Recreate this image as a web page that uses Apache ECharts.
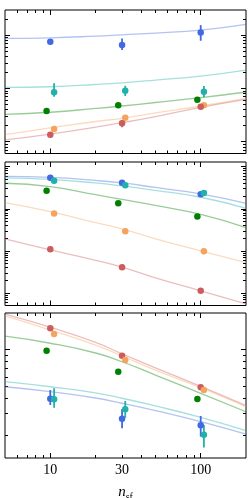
<!DOCTYPE html>
<html><head><meta charset="utf-8">
<script src="https://cdn.jsdelivr.net/npm/echarts@6/dist/echarts.min.js"></script>
<style>html,body{margin:0;padding:0;background:#fff}#c{width:249px;height:498px}</style>
</head><body><div id="c"></div>
<script>
// x positions of the measured points (slightly dodged per series)
const xBlue = [10, 30, 100];
const xTeal = [10.6, 31.5, 105];
const xGreen = [9.45, 28.3, 95];
const xOrange = [10.6, 31.5, 105];
const xRed = [10, 30, 100];
// x positions where the model curves are sampled
const curveX = [5, 10, 20, 30, 50, 100, 200];

// tick values
const xMajorTicks = [10, 100];
const xMinorTicks = [6, 7, 8, 9, 20, 30, 40, 50, 60, 70, 80, 90];
const xTickLabels = [10, 30, 100];
const y1Major = [1, 10, 100];
const y1Minor = [0.7, 0.8, 0.9, 2, 3, 4, 5, 6, 7, 8, 9, 20, 30, 40, 50, 60, 70, 80, 90, 200];
const y2Major = [0.01, 0.1, 1, 10];
const y2Minor = [0.006, 0.007, 0.008, 0.009, 0.02, 0.03, 0.04, 0.05, 0.06, 0.07, 0.08, 0.09, 0.2, 0.3, 0.4, 0.5, 0.6, 0.7, 0.8, 0.9, 2, 3, 4, 5, 6, 7, 8, 9];
const y3Major = [1];
const y3Minor = [0.2, 0.3, 0.4, 0.5, 0.6, 0.7, 0.8, 0.9];

// Panel 1 data
const p1Blue = [74.6, 64.7, 111.9];
const p1BlueLo = [null, 52.2, 77.9];
const p1BlueHi = [null, 86.3, 153];
const p1Teal = [8.41, 9.02, 8.64];
const p1TealLo = [6.96, 7.17, 6.78];
const p1TealHi = [12.4, 11.2, 11.0];
const p1Green = [3.76, 4.81, 6.12];
const p1Orange = [1.73, 2.81, 4.81];
const p1Red = [1.35, 2.21, 4.52];
const p1RedLo = [null, 1.86, null];
const p1RedHi = [null, 2.55, null];
const p1CurveBlue = [86.4, 88.6, 95.3, 100.9, 108.6, 123.5, 158];
const p1CurveTeal = [10.4, 10.7, 11.8, 12.7, 14.3, 17.0, 22.0];
const p1CurveGreen = [3.26, 3.56, 4.19, 4.66, 5.42, 6.67, 8.53];
const p1CurveOrange = [1.35, 1.81, 2.39, 2.74, 3.45, 4.66, 6.50];
const p1CurveRed = [1.08, 1.39, 1.88, 2.27, 2.96, 4.41, 6.22];

// Panel 2 data
const p2Blue = [5.49, 4.18, 2.22];
const p2Teal = [4.66, 3.62, 2.38];
const p2Green = [2.70, 1.36, 0.653];
const p2Orange = [0.770, 0.294, 0.0989];
const p2Red = [0.110, 0.0413, 0.01134];
const p2CurveBlue = [5.86, 5.55, 4.71, 4.11, 3.21, 2.25, 1.34];
const p2CurveTeal = [5.40, 4.97, 4.11, 3.49, 2.73, 1.88, 1.03];
const p2CurveGreen = [4.04, 3.36, 2.16, 1.67, 1.20, 0.737, 0.359];
const p2CurveOrange = [1.40, 0.859, 0.470, 0.334, 0.194, 0.1006, 0.0531];
const p2CurveRed = [0.194, 0.106, 0.0599, 0.0413, 0.0230, 0.0113, 0.00557];

// Panel 3 data
const p3Red = [1.50, 0.893, 0.492];
const p3Orange = [1.345, 0.823, 0.467];
const p3Green = [0.981, 0.660, 0.394];
const p3Blue = [0.397, 0.272, 0.240];
const p3BlueLo = [0.352, 0.227, 0.194];
const p3BlueHi = [0.467, 0.327, 0.286];
const p3Teal = [0.392, 0.325, 0.201];
const p3TealLo = [0.335, 0.277, 0.158];
const p3TealHi = [0.483, 0.380, 0.241];
const p3CurveRed = [1.96, 1.53, 1.15, 0.925, 0.71, 0.50, 0.348];
const p3CurveOrange = [1.89, 1.45, 1.09, 0.888, 0.68, 0.488, 0.341];
const p3CurveGreen = [1.29, 1.13, 0.940, 0.797, 0.62, 0.439, 0.310];
const p3CurveTeal = [0.547, 0.497, 0.442, 0.400, 0.346, 0.279, 0.217];
const p3CurveBlue = [0.497, 0.453, 0.402, 0.364, 0.317, 0.257, 0.203];

const C = {blue:'#4169e1', teal:'#20b2aa', green:'#008000', orange:'#f4a460', red:'#cd5c5c'};

const panels = [
  {grid:{left:5, top:10, width:241, height:143.5}, ymin:0.6, ymax:294, yMajor:y1Major, yMinor:y1Minor,
   pts:{blue:[xBlue,p1Blue,p1BlueLo,p1BlueHi], teal:[xTeal,p1Teal,p1TealLo,p1TealHi], green:[xGreen,p1Green], orange:[xOrange,p1Orange], red:[xRed,p1Red,p1RedLo,p1RedHi]},
   curves:{blue:p1CurveBlue, teal:p1CurveTeal, green:p1CurveGreen, orange:p1CurveOrange, red:p1CurveRed}},
  {grid:{left:5, top:162, width:241, height:143.5}, ymin:0.00508, ymax:12.9, yMajor:y2Major, yMinor:y2Minor,
   pts:{blue:[xBlue,p2Blue], teal:[xTeal,p2Teal], green:[xGreen,p2Green], orange:[xOrange,p2Orange], red:[xRed,p2Red]},
   curves:{blue:p2CurveBlue, teal:p2CurveTeal, green:p2CurveGreen, orange:p2CurveOrange, red:p2CurveRed}},
  {grid:{left:5, top:313, width:241, height:145}, ymin:0.1295, ymax:2.0, yMajor:y3Major, yMinor:y3Minor,
   pts:{red:[xRed,p3Red], orange:[xOrange,p3Orange], green:[xGreen,p3Green], blue:[xBlue,p3Blue,p3BlueLo,p3BlueHi], teal:[xTeal,p3Teal,p3TealLo,p3TealHi]},
   curves:{red:p3CurveRed, orange:p3CurveOrange, green:p3CurveGreen, teal:p3CurveTeal, blue:p3CurveBlue}}
];

const grids = [], xAxes = [], yAxes = [], series = [];
panels.forEach((p, i) => {
  grids.push(Object.assign({show:true, borderColor:'#000', borderWidth:1, backgroundColor:'transparent', containLabel:false, outerBoundsMode:'none'}, p.grid));
  const xBase = xAxes.length, yBase = yAxes.length;
  ['bottom','top'].forEach(pos => {
    [[xMajorTicks,5],[xMinorTicks,3]].forEach(([vals,len], k) => {
      const ax = {type:'log', gridIndex:i, min:5, max:200, position:pos,
        axisLine:{show:false}, splitLine:{show:false},
        axisTick:{show:true, inside:true, length:len, customValues:vals, lineStyle:{color:'#000', width:1}},
        axisLabel:{show:false}};
      if (i === 2 && pos === 'bottom' && k === 0) {
        ax.axisLabel = {show:true, customValues:xTickLabels, color:'#000', fontFamily:'Liberation Serif', fontSize:14, margin:5};
        ax.name = '{n|n}{s|sf}';
        ax.nameLocation = 'middle';
        ax.nameGap = 24;
        ax.nameTextStyle = {rich:{n:{fontFamily:'Liberation Serif', fontStyle:'italic', fontSize:15, color:'#000', lineHeight:20, verticalAlign:'middle'},
                                   s:{fontFamily:'Liberation Serif', fontSize:10, color:'#000', lineHeight:20, verticalAlign:'bottom'}}};
      }
      xAxes.push(ax);
    });
  });
  ['left','right'].forEach(pos => {
    [[p.yMajor,5],[p.yMinor,3]].forEach(([vals,len]) => {
      yAxes.push({type:'log', gridIndex:i, min:p.ymin, max:p.ymax, position:pos,
        axisLine:{show:false}, splitLine:{show:false},
        axisTick:{show:true, inside:true, length:len, customValues:vals, lineStyle:{color:'#000', width:1}},
        axisLabel:{show:false}});
    });
  });
  Object.keys(p.curves).forEach(c => {
    series.push({type:'line', xAxisIndex:xBase, yAxisIndex:yBase, smooth:0.5, showSymbol:false, silent:true,
      data: curveX.map((x, j) => [x, p.curves[c][j]]),
      lineStyle:{color:C[c], width:1.3, opacity:0.4}, z:1});
  });
  Object.keys(p.pts).forEach(c => {
    const [xs, ys, lo, hi] = p.pts[c];
    if (lo) {
      const d = xs.map((x, j) => [x, lo[j], hi[j]]).filter(r => r[1] != null);
      series.push({type:'custom', xAxisIndex:xBase, yAxisIndex:yBase, silent:true, z:3,
        data:d,
        renderItem:(params, api) => {
          const a = api.coord([api.value(0), api.value(1)]);
          const b = api.coord([api.value(0), api.value(2)]);
          return {type:'line', shape:{x1:a[0], y1:a[1], x2:b[0], y2:b[1]}, style:{stroke:C[c], lineWidth:1.8}};
        }});
    }
    series.push({type:'scatter', xAxisIndex:xBase, yAxisIndex:yBase, symbol:'circle', symbolSize:6.5, silent:true, z:4,
      data: xs.map((x, j) => [x, ys[j]]), itemStyle:{color:C[c], opacity:1}});
  });
});

const chart = echarts.init(document.getElementById('c'), null, {renderer:'canvas'});
chart.setOption({animation:false, backgroundColor:'#fff', grid:grids, xAxis:xAxes, yAxis:yAxes, series:series});
</script></body></html>
